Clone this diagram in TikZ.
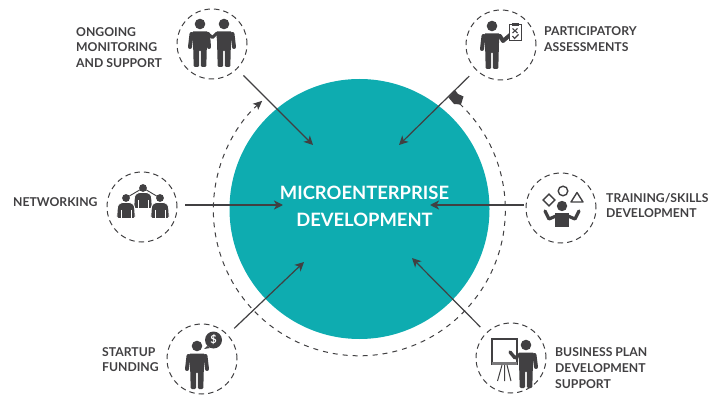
\documentclass[tikz,border=0pt]{standalone}
\usepackage{fontspec}
\setmainfont{Lato}
\usetikzlibrary{arrows.meta,shapes.geometric}
\definecolor{coreteal}{HTML}{0EACB0}
\definecolor{icondark}{HTML}{414042}
\tikzset{
  coredisc/.style={circle,fill=coreteal,minimum size=260pt,inner sep=0pt},
  coretext/.style={text=white,align=center,inner sep=0pt,font=\fontsize{18.4}{27}\selectfont\bfseries},
  iconring/.style={circle,draw=icondark,line width=1pt,dash pattern=on 5.5pt off 4pt,minimum size=70pt,inner sep=0pt},
  caption/.style={anchor=west,text=icondark,align=left,inner sep=0pt,font=\fontsize{12.2}{15.6}\selectfont\bfseries},
  flowline/.style={draw=icondark,line width=1.2pt,-{Stealth[length=9pt,width=9pt,inset=2.5pt]}},
  flowthick/.style={flowline,line width=1.9pt},
  armline/.style={draw=icondark,line width=4pt,line cap=round,line join=round},
  looparc/.style={draw=icondark,line width=1pt,dash pattern=on 5pt off 5pt},
  manbody/.pic={
    \fill[icondark] (0,0) circle (5.3);
    \fill[icondark,rounded corners=1.2pt] (-8,7.5) -- (8,7.5) -- (7,16) -- (6.3,43) -- (1,43) -- (0.8,26) -- (-0.8,26) -- (-1,43) -- (-6.3,43) -- (-7,16) -- cycle;
  },
  bust/.pic={
    \fill[icondark] (0,0) circle (3.9);
    \filldraw[icondark,draw=white,line width=0.8pt,rounded corners=1.5pt] (-5,4.5) -- (5,4.5) -- (8.5,7.5) -- (9.2,20.5) -- (-9.2,20.5) -- (-8.5,7.5) -- cycle;
    \draw[white,line width=0.7pt] (-5,12) -- (-5,20.5) (5,12) -- (5,20.5);
  }
}
\begin{document}
\begin{tikzpicture}[x=1pt,y=-1pt]
\useasboundingbox (0,0) rectangle (717,395);
\node[coredisc] (core) at (359.5,209) {};
\draw[looparc,-{Stealth[length=9pt,width=8pt,inset=2pt]}] (452,97) arc[start angle=-50.6,end angle=228.3,radius=146];
\node[coretext] (coretitle) at (364.5,206) {MICROENTERPRISE\\DEVELOPMENT};

% rings round the disc
\node[iconring] (ongoing) at (212,44) {};
\node[iconring] (assess) at (501,45) {};
\node[iconring] (network) at (142,207) {};
\node[iconring] (training) at (561,208) {};
\node[iconring] (startup) at (202,359) {};
\node[iconring] (business) at (511,358) {};

% arrow ends inside the disc
\coordinate (ongoingend) at (313,145);
\coordinate (assessend) at (399,145);
\coordinate (networkend) at (283,205);
\coordinate (trainingend) at (430,205);
\coordinate (startupend) at (304,262);
\coordinate (businessend) at (412,258);
\draw[flowline,shorten <=9pt] (ongoing) -- (ongoingend);
\draw[flowline,shorten <=9pt] (assess) -- (assessend);
\draw[flowthick,shorten <=8pt] (network.center |- networkend) ++(35,0) coordinate (networkstart) (networkstart) -- (networkend);
\draw[flowthick,shorten <=2pt] (training.center |- trainingend) ++(-35,0) coordinate (trainingstart) (trainingstart) -- (trainingend);
\draw[flowline,shorten <=9pt] (startup) -- (startupend);
\draw[flowline,shorten <=8pt] (business) -- (businessend);

% flag on the loop end
\fill[icondark] (455,90) -- (458,94) -- (463.5,96.5) -- (461,104.5) -- (454,104) -- (448.5,97.5) -- cycle;

% ongoing monitoring
\pic at (200,24) {manbody};
\pic at (224,24) {manbody};
\draw[armline] (191.5,34) -- (190,47);
\draw[armline] (232.5,34) -- (234,47);
\draw[armline,line width=3pt] (207,33) -- (212.5,37.5) -- (217,33);
\draw[armline] (208,34) -- (209,47);
\node[caption] (ongoinglabel) at (76,47.5) {ONGOING\\MONITORING\\AND SUPPORT};

% assessments
\pic at (492,26) {manbody};
\draw[armline] (483.5,36) -- (482,49);
\draw[armline] (500,36) -- (503,41) -- (510,35);
\draw[icondark,line width=1pt,fill=white] (509,25) rectangle (521.5,41);
\fill[icondark] (512,23.5) rectangle (518.5,26.5);
\draw[icondark,line width=1.1pt] (512.5,28.5) -- (517.5,33) (517.5,28.5) -- (512.5,33);
\draw[icondark,line width=1.1pt] (512.5,36) -- (514.5,38.5) -- (518.5,34.5);
\node[caption] (assesslabel) at (544,39) {PARTICIPATORY\\ASSESSMENTS};

% networking
\pic at (143,188) {bust};
\pic at (126,198) {bust};
\pic at (160,198) {bust};
\draw[icondark,line width=0.9pt] (126,198) -- (143,188) -- (160,198);
\node[caption] (networklabel) at (13,202) {NETWORKING};

% training
\node[diamond,draw=icondark,line width=1.4pt,minimum size=12.5pt,inner sep=0pt] (shapediamond) at (549,200) {};
\draw[icondark,line width=1.4pt] (563,191) circle (4.8);
\draw[icondark,line width=1.4pt,line join=round] (577,192.5) -- (583,202) -- (571,202) -- cycle;
\fill[icondark] (562,206) circle (5.2);
\fill[icondark] (555,213) rectangle (569,227);
\draw[armline,line width=3.2pt] (545,211) -- (549,219) -- (556,216);
\draw[armline,line width=3.2pt] (579,211) -- (575,219) -- (568,216);
\node[caption] (traininglabel) at (606,205.5) {TRAINING/SKILLS\\DEVELOPMENT};

% startup
\pic at (197,346) {manbody};
\draw[armline] (188.5,356) -- (187,369);
\draw[armline] (205.5,356) -- (207,369);
\fill[icondark] (213.5,340) circle (8.5);
\fill[icondark] (207,346) -- (204,349) -- (210,348) -- cycle;
\node[text=white,inner sep=0pt,font=\fontsize{11}{11}\selectfont\bfseries] (dollar) at (213.5,340) {\$};
\node[caption,font=\fontsize{12.2}{15}\selectfont\bfseries] (startuplabel) at (102,360) {STARTUP\\FUNDING};

% business plan
\pic at (526,345) {manbody};
\draw[armline] (534.5,355) -- (536,367);
\draw[icondark,line width=1.2pt,fill=white] (492,339) rectangle (517,364);
\fill[icondark!70] (492,362) rectangle (517,365);
\draw[icondark,line width=1pt] (502,365) -- (497.5,381) (504.5,365) -- (504.5,381) (507,365) -- (511,381);
\draw[armline,line width=3.4pt] (519,355) -- (515,358) -- (510,352);
\node[caption] (businesslabel) at (555,368) {BUSINESS PLAN\\DEVELOPMENT\\SUPPORT};
\end{tikzpicture}
\end{document}
